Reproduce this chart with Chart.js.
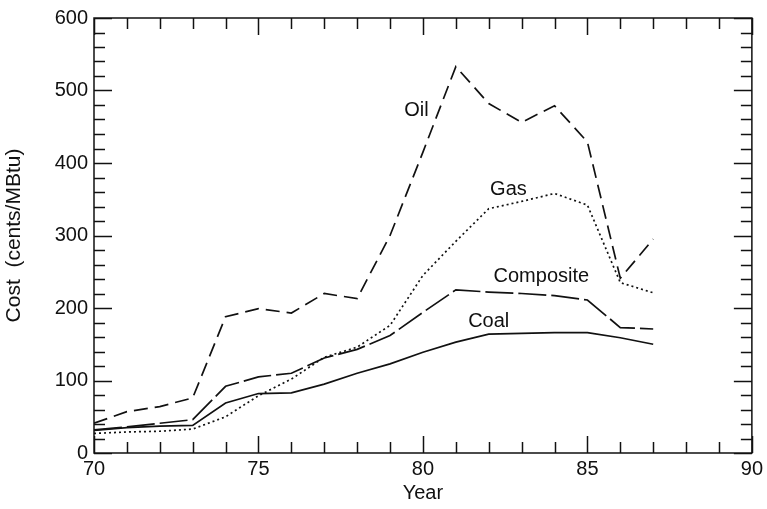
<!DOCTYPE html>
<html>
<head>
<meta charset="utf-8">
<script src="https://cdn.jsdelivr.net/npm/chart.js@4/dist/chart.umd.min.js"></script>
<style>
  html, body { margin: 0; padding: 0; background: #fff; }
  canvas { display: block; }
</style>
</head>
<body>
<canvas id="costChart" width="767" height="509"></canvas>
<script>
// values (cents/MBtu)
const years = [70, 71, 72, 73, 74, 75, 76, 77, 78, 79, 80, 81, 82, 83, 84, 85, 86, 87];
const oil = [41, 57, 64, 76, 188, 199, 193, 220, 213, 300, 415, 533, 482, 456, 479, 429, 241, 295];
const gas = [27, 29, 30, 33, 50, 79, 102, 132, 146, 176, 245, 292, 337, 347, 358, 342, 235, 221];
const composite = [32, 36, 41, 46, 92, 105, 110, 131, 143, 162, 194, 225, 222, 220, 217, 211, 173, 171];
const coal = [31, 35, 37, 38, 69, 82, 83, 95, 110, 123, 139, 153, 164, 165, 166, 166, 159, 150];

const seriesNames = ['Oil', 'Gas', 'Composite', 'Coal'];
// where the in-plot labels sit, in data units
const labelYears = [79.8, 82.6, 83.6, 82.0];
const labelValues = [473, 364, 244, 182];

const FONT = '"Liberation Sans", Arial, Helvetica, sans-serif';
Chart.defaults.font.family = FONT;
Chart.defaults.color = '#111';

function pts(vals) {
    return years.map((yr, i) => ({ x: yr, y: vals[i] }));
}

function line(label, vals, dash) {
    return {
        label: label,
        data: pts(vals),
        borderColor: '#111',
        borderWidth: 1.7,
        borderDash: dash,
        pointRadius: 0,
        tension: 0,
        fill: false
    };
}

// inward tick marks on all four sides, the frame, and the series labels
const frameTicks = {
    id: 'frameTicks',
    afterDatasetsDraw(chart) {
        const { ctx, chartArea: a, scales: { x, y } } = chart;
        ctx.save();
        ctx.strokeStyle = '#111';
        ctx.lineWidth = 1.5;
        ctx.setLineDash([]);
        ctx.beginPath();
        x.ticks.forEach(t => {
            const px = Math.round(x.getPixelForValue(t.value)) + 0.5;
            const len = t.value % 5 === 0 ? 17 : 11;
            ctx.moveTo(px, a.bottom); ctx.lineTo(px, a.bottom - len);
            ctx.moveTo(px, a.top); ctx.lineTo(px, a.top + len);
        });
        y.ticks.forEach(t => {
            const py = Math.round(y.getPixelForValue(t.value)) + 0.5;
            const len = t.value % 100 === 0 ? 18 : 11;
            ctx.moveTo(a.left, py); ctx.lineTo(a.left + len, py);
            ctx.moveTo(a.right, py); ctx.lineTo(a.right - len, py);
        });
        ctx.rect(a.left, a.top, a.right - a.left, a.bottom - a.top);
        ctx.stroke();

        ctx.font = '20px ' + FONT;
        ctx.fillStyle = '#111';
        ctx.textAlign = 'center';
        ctx.textBaseline = 'middle';
        seriesNames.forEach((n, i) => {
            ctx.fillText(n, x.getPixelForValue(labelYears[i]), y.getPixelForValue(labelValues[i]));
        });
        ctx.restore();
    }
};

new Chart(document.getElementById('costChart').getContext('2d'), {
    type: 'line',
    data: {
        datasets: [
            line('Oil', oil, [14, 7]),
            line('Gas', gas, [2, 3]),
            line('Composite', composite, [28, 5]),
            line('Coal', coal, [])
        ]
    },
    options: {
        responsive: false,
        animation: false,
        devicePixelRatio: 1,
        layout: { padding: { left: 0, right: 14, top: 15, bottom: 0 } },
        plugins: {
            legend: { display: false },
            tooltip: { enabled: false }
        },
        scales: {
            x: {
                type: 'linear',
                min: 70,
                max: 90,
                grid: { display: false, drawTicks: false },
                border: { display: false },
                ticks: {
                    stepSize: 1,
                    autoSkip: false,
                    maxRotation: 0,
                    padding: 4,
                    font: { size: 20 },
                    callback: v => (v % 5 === 0 ? String(v) : '')
                },
                title: {
                    display: true,
                    text: 'Year',
                    font: { size: 20 },
                    padding: { top: 0, bottom: 4 }
                },
                afterFit: s => { s.height = 56; }
            },
            y: {
                min: 0,
                max: 600,
                grid: { display: false, drawTicks: false },
                border: { display: false },
                ticks: {
                    stepSize: 20,
                    autoSkip: false,
                    padding: 6,
                    font: { size: 20 },
                    callback: v => (v % 100 === 0 ? String(v) : '')
                },
                title: {
                    display: true,
                    text: 'Cost  (cents/MBtu)',
                    font: { size: 21 },
                    padding: { top: 2, bottom: 0 }
                },
                afterFit: s => { s.width = 94; }
            }
        }
    },
    plugins: [frameTicks]
});
</script>
</body>
</html>
